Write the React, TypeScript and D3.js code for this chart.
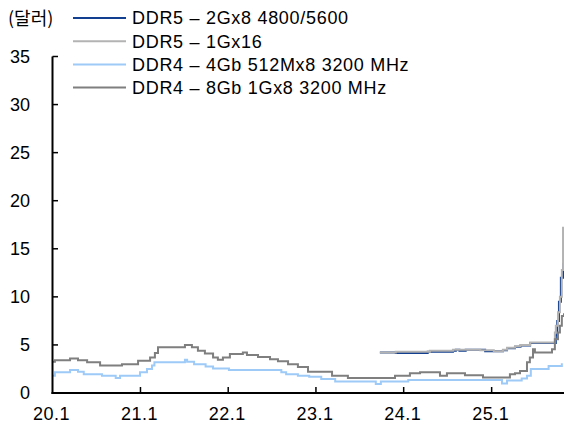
import React from "react";
import * as d3 from "d3";

const yTicks = [0, 5, 10, 15, 20, 25, 30, 35];
const xTickDates = ["2020-01-01", "2021-01-01", "2022-01-01", "2023-01-01", "2024-01-01", "2025-01-01"];
const xTickLabels = ["20.1", "21.1", "22.1", "23.1", "24.1", "25.1"];
const unitLabel = "(달러)";
const seriesNames = [
  "DDR5 – 2Gx8 4800/5600",
  "DDR5 – 1Gx16",
  "DDR4 – 4Gb 512Mx8 3200 MHz",
  "DDR4 – 8Gb 1Gx8 3200 MHz",
];
const seriesColors = ["#123f8f", "#b3b3b3", "#9dcaf7", "#7f7f7f"];
const domainStart = "2020-01-01";
const domainEnd = "2025-10-29";

const ddr5_2g_dates = ["2023-09-24", "2023-11-29", "2024-04-10", "2024-07-24", "2024-08-05", "2024-08-20", "2024-09-15", "2024-12-05", "2025-01-20", "2025-02-17", "2025-03-06", "2025-04-08", "2025-05-01", "2025-06-10", "2025-09-25", "2025-10-01", "2025-10-08", "2025-10-16", "2025-10-25"];
const ddr5_2g_values = [4.2, 4.15, 4.3, 4.4, 4.5, 4.4, 4.5, 4.35, 4.35, 4.45, 4.65, 4.8, 4.95, 5.2, 6.0, 7.5, 9.5, 12.0, 13.5];

const ddr5_1g_dates = ["2023-09-24", "2023-11-29", "2024-04-19", "2024-07-24", "2024-11-15", "2025-01-10", "2025-02-17", "2025-03-06", "2025-04-08", "2025-05-01", "2025-06-10", "2025-09-21", "2025-09-25", "2025-10-04", "2025-10-12", "2025-10-20", "2025-10-25"];
const ddr5_1g_values = [4.2, 4.3, 4.4, 4.5, 4.45, 4.35, 4.5, 4.7, 4.85, 5.0, 5.25, 6.3, 7.0, 8.4, 10.0, 12.8, 17.3];

const ddr4_4g_dates = ["2020-01-01", "2020-01-11", "2020-03-14", "2020-04-16", "2020-05-10", "2020-07-25", "2020-09-20", "2020-10-08", "2020-12-30", "2021-01-28", "2021-02-18", "2021-02-28", "2021-07-05", "2021-07-14", "2021-08-12", "2021-09-29", "2021-10-30", "2022-01-04", "2022-08-10", "2022-08-30", "2022-10-18", "2022-12-04", "2023-01-23", "2023-03-22", "2023-09-07", "2023-09-28", "2024-01-20", "2025-02-13", "2025-03-06", "2025-05-06", "2025-05-28", "2025-06-13", "2025-08-26", "2025-10-20"];
const ddr4_4g_values = [1.8, 2.15, 2.4, 2.2, 1.95, 1.8, 1.55, 1.8, 2.15, 2.5, 2.85, 3.2, 3.45, 3.25, 3.0, 2.75, 2.55, 2.4, 2.15, 1.95, 1.8, 1.7, 1.45, 1.2, 0.93, 1.2, 1.35, 1.0, 1.3, 1.5, 1.8, 2.5, 2.8, 3.1];

const ddr4_8g_dates = ["2020-01-01", "2020-01-11", "2020-03-14", "2020-04-16", "2020-05-24", "2020-07-17", "2020-10-16", "2020-12-22", "2021-02-10", "2021-03-02", "2021-03-15", "2021-07-05", "2021-08-03", "2021-08-28", "2021-09-26", "2021-10-30", "2021-11-19", "2021-12-10", "2022-01-08", "2022-03-03", "2022-03-20", "2022-05-05", "2022-06-24", "2022-07-27", "2022-09-07", "2022-10-18", "2022-11-29", "2023-03-09", "2023-05-14", "2023-11-26", "2024-01-27", "2024-03-09", "2024-05-31", "2024-06-29", "2024-09-12", "2024-11-26", "2025-03-18", "2025-04-08", "2025-04-29", "2025-05-28", "2025-06-09", "2025-06-22", "2025-06-30", "2025-09-09", "2025-09-21", "2025-10-04", "2025-10-12", "2025-10-20", "2025-10-29"];
const ddr4_8g_values = [3.25, 3.4, 3.6, 3.4, 3.2, 2.85, 3.0, 3.35, 3.7, 4.15, 4.75, 5.0, 4.75, 4.4, 4.1, 3.7, 3.45, 3.7, 4.05, 4.2, 3.95, 3.75, 3.5, 3.3, 3.0, 2.7, 2.2, 1.8, 1.55, 1.8, 2.05, 2.15, 1.8, 2.05, 1.85, 1.6, 1.95, 2.05, 2.3, 3.2, 3.7, 4.55, 4.2, 4.55, 5.6, 6.3, 7.0, 8.0, 8.3];

const parse = d3.timeParse("%Y-%m-%d");

export default function App() {
  const width = 564;
  const height = 425;
  const x = d3.scaleTime().domain([parse(domainStart)!, parse(domainEnd)!]).range([52.5, 564]);
  const y = d3.scaleLinear().domain([0, 35]).range([393, 56.5]);

  const series = [
    { dates: ddr5_2g_dates, values: ddr5_2g_values },
    { dates: ddr5_1g_dates, values: ddr5_1g_values },
    { dates: ddr4_4g_dates, values: ddr4_4g_values },
    { dates: ddr4_8g_dates, values: ddr4_8g_values },
  ];

  const line = d3
    .line<[Date, number]>()
    .x((d) => x(d[0]))
    .y((d) => y(d[1]))
    .curve(d3.curveStepAfter);

  const font = "'Liberation Sans', Arial, 'Noto Sans CJK KR', sans-serif";

  return (
    <svg width={width} height={height} style={{ position: "absolute", left: 0, top: 0, background: "#fff" }} fontFamily={font}>
      {series.map((s, i) => {
        const pts: [Date, number][] = s.dates.map((d, j) => [parse(d)!, s.values[j]]);
        return <path key={i} d={line(pts) || ""} fill="none" stroke={seriesColors[i]} strokeWidth={2} />;
      })}

      {/* y axis */}
      <line x1={52.5} x2={52.5} y1={y(35)} y2={y(0) + 1} stroke="#000" strokeWidth={2} />
      {yTicks.map((t) => (
        <g key={t}>
          <line x1={52.5} x2={58} y1={y(t)} y2={y(t)} stroke="#000" strokeWidth={1.5} />
          <text x={30} y={y(t)} dy="0.36em" textAnchor="end" fontSize={18} fill="#000">
            {t}
          </text>
        </g>
      ))}

      {/* x axis */}
      <line x1={51.5} x2={564} y1={y(0)} y2={y(0)} stroke="#000" strokeWidth={2} />
      {xTickDates.map((d, i) => {
        const xx = x(parse(d)!);
        return (
          <g key={d}>
            {i > 0 && <line x1={xx} x2={xx} y1={y(0)} y2={y(0) - 6} stroke="#000" strokeWidth={1.5} />}
            <text x={xx - 1} y={420} textAnchor="middle" fontSize={18} letterSpacing={0.5} fill="#000">
              {xTickLabels[i]}
            </text>
          </g>
        );
      })}

      {/* unit */}
      <text x={8} y={25} fontSize={18} fontFamily="'Noto Sans CJK KR', sans-serif" fill="#000">
        {unitLabel}
      </text>

      {/* legend */}
      {seriesNames.map((n, i) => {
        const ly = 18 + i * 23.2;
        return (
          <g key={n}>
            <line x1={73} x2={126} y1={ly} y2={ly} stroke={seriesColors[i]} strokeWidth={2} />
            <text x={132} y={ly} dy="0.36em" fontSize={18} letterSpacing={0.7} fill="#000">
              {n}
            </text>
          </g>
        );
      })}
    </svg>
  );
}
